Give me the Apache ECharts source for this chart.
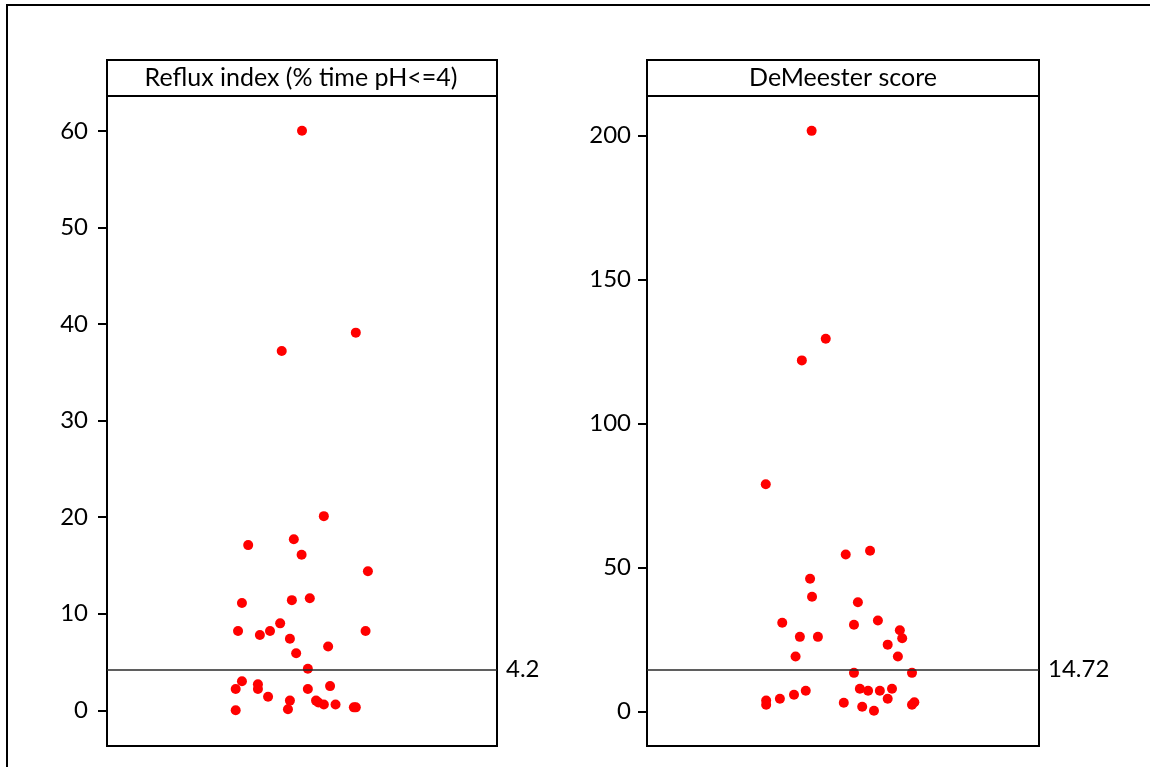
<!DOCTYPE html>
<html>
<head>
<meta charset="utf-8">
<script src="https://cdn.jsdelivr.net/npm/echarts@6/dist/echarts.min.js"></script>
<style>
html,body{margin:0;padding:0;background:#fff;}
#chart{width:1150px;height:767px;}
</style>
</head>
<body>
<div id="chart"></div>
<script>
// Panel titles
const panelTitles = ["Reflux index (% time pH<=4)", "DeMeester score"];
// Tick labels
const leftTicks = [0, 10, 20, 30, 40, 50, 60];
const rightTicks = [0, 50, 100, 150, 200];
// Reference (threshold) lines
const leftThreshold = 4.2;
const rightThreshold = 14.72;
// Reflux index values and jitter positions
const leftY = [60, 39.1, 37.2, 20.1, 17.1, 17.7, 16.1, 14.4, 11.1, 11.4, 11.6, 8.2, 7.8, 8.2, 9.0, 8.2, 7.4, 6.6, 5.9, 4.3, 3.0, 2.2, 2.7, 2.2, 1.4, 2.2, 2.5, 1.0, 0.1, 0.0, 1.0, 0.8, 0.6, 0.6, 0.3, 0.3];
const leftX = [50.0, 63.8, 44.8, 55.6, 36.2, 47.9, 49.9, 66.9, 34.6, 47.4, 52.0, 33.6, 39.2, 41.8, 44.4, 66.3, 46.9, 56.7, 48.5, 51.5, 34.6, 33.0, 38.7, 38.7, 41.3, 51.5, 57.2, 46.9, 46.4, 33.0, 53.6, 54.2, 55.6, 58.6, 63.3, 63.8];
// DeMeester score values and jitter positions
const rightY = [201.7, 129.5, 122.0, 79.0, 54.6, 55.9, 46.2, 39.9, 38.0, 30.9, 30.2, 31.7, 26.0, 26.0, 28.3, 25.5, 23.3, 19.2, 19.2, 13.5, 13.5, 7.3, 8.0, 7.3, 7.3, 8.0, 5.9, 4.5, 3.9, 2.4, 3.1, 4.5, 1.7, 0.35, 2.4, 3.3];
const rightX = [42.0, 45.6, 39.5, 30.3, 50.7, 56.9, 41.6, 42.1, 53.8, 34.5, 52.8, 58.9, 39.0, 43.6, 64.5, 65.1, 61.4, 37.9, 64.0, 52.8, 67.6, 40.5, 54.3, 56.4, 59.4, 62.5, 37.5, 33.9, 30.4, 30.4, 50.2, 61.4, 54.9, 57.9, 67.6, 68.2];

const FONT = 'Lato, "Open Sans", sans-serif';
const FS = 24;
const TFS = 25;
const chart = echarts.init(document.getElementById('chart'), null, {renderer: 'canvas'});

const grids = [
  {left: 107, top: 96, width: 390, height: 650},
  {left: 647, top: 96, width: 392, height: 650}
];

function yAxisCfg(idx, min, max, ticks, margin) {
  return {
    type: 'value', gridIndex: idx, min: min, max: max,
    axisLine: {show: true, lineStyle: {color: '#000', width: 2}},
    axisTick: {show: true, inside: false, length: 9, customValues: ticks, lineStyle: {color: '#000', width: 2}},
    axisLabel: {show: true, margin: margin, customValues: ticks, color: '#000', fontSize: FS, fontFamily: FONT},
    splitLine: {show: false}
  };
}

function seriesCfg(idx, xs, ys, thr) {
  return {
    type: 'scatter', xAxisIndex: idx, yAxisIndex: idx,
    data: xs.map((x, i) => [x, ys[i]]),
    symbol: 'circle', symbolSize: 10,
    itemStyle: {color: '#ff0000', opacity: 1},
    silent: true,
    markLine: {
      silent: true, symbol: 'none', animation: false,
      lineStyle: {color: '#2a2a2a', width: 1.5, type: 'solid', opacity: 1},
      label: {show: true, position: 'end', distance: 9, formatter: String(thr), color: '#000', fontSize: FS, fontFamily: FONT},
      emphasis: {disabled: true},
      data: [{yAxis: thr}]
    }
  };
}

const option = {
  animation: false,
  backgroundColor: '#fff',
  grid: grids.map(g => Object.assign({show: true, borderColor: '#000', borderWidth: 2, backgroundColor: 'transparent', containLabel: false}, g)),
  xAxis: [
    {type: 'value', gridIndex: 0, min: 0, max: 100, show: false},
    {type: 'value', gridIndex: 1, min: 0, max: 100, show: false}
  ],
  yAxis: [
    yAxisCfg(0, -3.7, 63.6, leftTicks, 19),
    yAxisCfg(1, -11.9, 213.8, rightTicks, 16)
  ],
  series: [
    seriesCfg(0, leftX, leftY, leftThreshold),
    seriesCfg(1, rightX, rightY, rightThreshold)
  ],
  graphic: [
    {type: 'rect', shape: {x: 7, y: 5, width: 1200, height: 800}, style: {fill: 'none', stroke: '#000', lineWidth: 2}, silent: true, z: 0},
    {type: 'rect', shape: {x: 107, y: 60, width: 390, height: 36}, style: {fill: 'none', stroke: '#000', lineWidth: 2}, silent: true},
    {type: 'rect', shape: {x: 647, y: 60, width: 392, height: 36}, style: {fill: 'none', stroke: '#000', lineWidth: 2}, silent: true},
    {type: 'text', x: 301, y: 78, style: {text: panelTitles[0], textAlign: 'center', textVerticalAlign: 'middle', fill: '#000', fontSize: TFS, fontFamily: FONT}, silent: true},
    {type: 'text', x: 843, y: 78, style: {text: panelTitles[1], textAlign: 'center', textVerticalAlign: 'middle', fill: '#000', fontSize: TFS, fontFamily: FONT}, silent: true}
  ]
};
chart.setOption(option);
</script>
</body>
</html>
